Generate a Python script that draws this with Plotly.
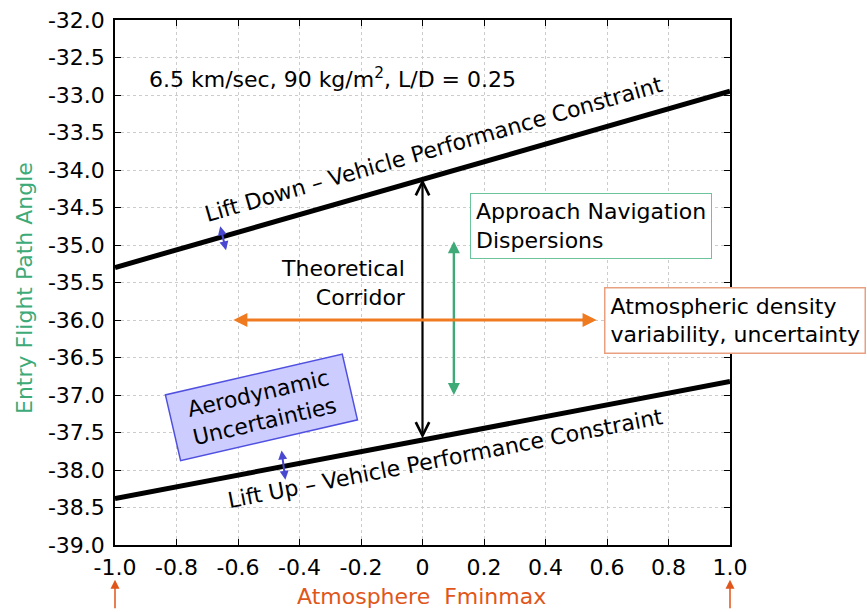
import plotly.graph_objects as go

# ---- data ----
fminmax = [-1.0, 1.0]
lift_down_fpa = [-35.3, -32.95]
lift_up_fpa = [-38.38, -36.82]

x_tickvals = [-1.0, -0.8, -0.6, -0.4, -0.2, 0.0, 0.2, 0.4, 0.6, 0.8, 1.0]
x_ticktext = ["-1.0", "-0.8", "-0.6", "-0.4", "-0.2", "0", "0.2", "0.4", "0.6", "0.8", "1.0"]
y_tickvals = [-32.0, -32.5, -33.0, -33.5, -34.0, -34.5, -35.0, -35.5, -36.0,
              -36.5, -37.0, -37.5, -38.0, -38.5, -39.0]
y_ticktext = ["-32.0", "-32.5", "-33.0", "-33.5", "-34.0", "-34.5", "-35.0", "-35.5",
              "-36.0", "-36.5", "-37.0", "-37.5", "-38.0", "-38.5", "-39.0"]

# double arrows: (x_start, y_start, x_end, y_end)
corridor_arrow = [0.0, -34.1, 0.0, -37.58]
nav_arrow = [0.102, -34.93, 0.102, -37.0]
density_arrow = [-0.62, -36.0, 0.566, -36.0]
aero_arrow_top = [-0.659, -34.73, -0.639, -35.07]
aero_arrow_bottom = [-0.459, -37.72, -0.446, -38.13]

FONT = "DejaVu Sans, Verdana, sans-serif"
GREEN = "#3daa78"
ORANGE = "#e0561a"
BLUE = "#4848d0"

fig = go.Figure()
fig.add_trace(go.Scatter(x=fminmax, y=lift_down_fpa, mode="lines",
                         line=dict(color="black", width=5), showlegend=False, hoverinfo="skip"))
fig.add_trace(go.Scatter(x=fminmax, y=lift_up_fpa, mode="lines",
                         line=dict(color="black", width=5), showlegend=False, hoverinfo="skip"))

annotations = []

def darrow(a, color, width, head, size):
    annotations.append(dict(
        x=a[2], y=a[3], ax=a[0], ay=a[1], xref="x", yref="y", axref="x", ayref="y",
        text="", showarrow=True, arrowside="end+start", arrowhead=head, startarrowhead=head,
        arrowsize=size, startarrowsize=size, arrowwidth=width, arrowcolor=color,
        standoff=0, startstandoff=0))

darrow(corridor_arrow, "black", 2.2, 5, 1.2)
darrow(nav_arrow, GREEN, 2.4, 2, 1.0)
darrow(density_arrow, "#f07a20", 2.8, 2, 1.0)
darrow(aero_arrow_top, BLUE, 2.0, 2, 0.9)
darrow(aero_arrow_bottom, BLUE, 2.0, 2, 0.9)

# orange arrows below the x-axis at the axis ends
for xv in fminmax:
    annotations.append(dict(x=xv, y=-0.066, xref="x", yref="paper", ax=0, ay=30,
                            text="", showarrow=True, arrowhead=2, arrowsize=1.2,
                            arrowwidth=1.5, arrowcolor=ORANGE, standoff=0))

fs = 22
annotations += [
    dict(x=-0.896, y=-32.77, xref="x", yref="y", xanchor="left", yanchor="middle",
         text="6.5 km/sec, 90 kg/m<sup>2</sup>, L/D = 0.25", showarrow=False,
         font=dict(family=FONT, size=fs, color="black")),
    dict(x=0.035, y=-33.72, xref="x", yref="y", text="Lift Down – Vehicle Performance Constraint",
         textangle=-16, showarrow=False, font=dict(family=FONT, size=fs, color="black")),
    dict(x=0.076, y=-37.853, xref="x", yref="y", text="Lift Up – Vehicle Performance Constraint",
         textangle=-11, showarrow=False, font=dict(family=FONT, size=fs, color="black")),
    dict(x=-0.047, y=-35.507, xref="x", yref="y", xanchor="right", yanchor="middle", align="right",
         text="Theoretical<br>Corridor", showarrow=False,
         font=dict(family=FONT, size=fs, color="black")),
    dict(x=0.154, y=-34.747, xref="x", yref="y", xanchor="left", yanchor="middle", align="left",
         text="Approach Navigation<br>Dispersions", showarrow=False,
         bgcolor="white", bordercolor="#6cc49c", borderwidth=1, borderpad=5,
         font=dict(family=FONT, size=fs, color="black")),
    dict(x=0.590, y=-36.0, xref="x", yref="y", xanchor="left", yanchor="middle", align="left",
         text="Atmospheric density<br>variability, uncertainty", showarrow=False,
         bgcolor="white", bordercolor="#e8a080", borderwidth=1.5, borderpad=5,
         font=dict(family=FONT, size=fs, color="black")),
    dict(x=-0.525, y=-37.17, xref="x", yref="y", text="Aerodynamic<br>Uncertainties",
         textangle=-13, showarrow=False, bgcolor="#ccccff", bordercolor="#5050e0",
         borderwidth=1.5, width=180, height=66, borderpad=0,
         font=dict(family=FONT, size=fs, color="black")),
    dict(x=-0.148, y=0.4895, xref="paper", yref="paper", xanchor="center", yanchor="middle",
         text="Entry Flight Path Angle",
         textangle=-90, showarrow=False, font=dict(family=FONT, size=fs, color=GREEN)),
    dict(x=0.499, y=-0.099, xref="paper", yref="paper", xanchor="center", yanchor="middle",
         text="Atmosphere  Fminmax",
         showarrow=False, font=dict(family=FONT, size=fs, color=ORANGE)),
]

axis_common = dict(showline=True, linecolor="black", linewidth=1.5, mirror="ticks",
                   ticks="inside", ticklen=6, tickwidth=1.2, tickcolor="black",
                   showgrid=True, gridcolor="#cccccc", griddash="dot", gridwidth=1,
                   zeroline=False, automargin=False,
                   tickfont=dict(family=FONT, size=fs, color="black"))

fig.update_layout(
    width=867, height=612,
    margin=dict(l=115, r=137, t=20, b=67),
    paper_bgcolor="white", plot_bgcolor="white",
    xaxis=dict(range=[-1.0, 1.0], tickvals=x_tickvals, ticktext=x_ticktext,
               ticklabelstandoff=2, **axis_common),
    yaxis=dict(range=[-39.0, -32.0], tickvals=y_tickvals, ticktext=y_ticktext,
               ticklabelstandoff=4, **axis_common),
    annotations=annotations,
    showlegend=False,
)

fig.write_html("out.html", config={"displayModeBar": False},
               post_script="document.body.style.margin='0';document.body.style.overflow='hidden';")
